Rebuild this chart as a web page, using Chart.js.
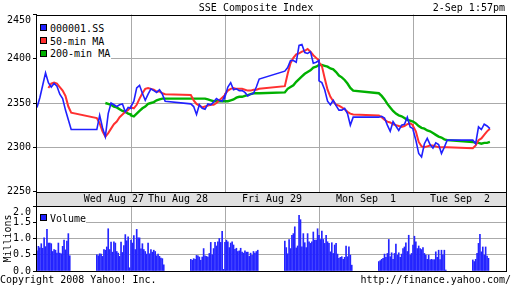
<!DOCTYPE html>
<html><head><meta charset="utf-8">
<script src="https://cdn.jsdelivr.net/npm/chart.js@4.4.0/dist/chart.umd.min.js"></script>
<style>
html,body{margin:0;padding:0;background:#fff;}
body{width:512px;height:288px;position:relative;overflow:hidden;font-family:"DejaVu Sans Mono",monospace;font-size:10px;color:#000;}
.t{position:absolute;white-space:pre;line-height:12px;}
canvas{position:absolute;left:0;}
.bg{position:absolute;background:#fff;}
.box{position:absolute;width:5px;height:5px;border:1px solid #000;}
</style></head><body>
<canvas id="pc" width="512" height="200" style="top:0"></canvas>
<canvas id="vc" width="512" height="98" style="top:190px"></canvas>
<div class="t" style="left:0;width:512px;text-align:center;top:1.5px">SSE Composite Index</div>
<div class="t" style="right:7px;top:1.5px">2-Sep 1:57pm</div>
<div class="bg" style="left:37px;top:16px;width:74px;height:44px"></div>
<div class="box" style="left:40px;top:24px;background:#2020ff"></div>
<div class="box" style="left:40px;top:37px;background:#ff3030"></div>
<div class="box" style="left:40px;top:50px;background:#00b000"></div>
<div class="t" style="left:50px;top:23px">000001.SS</div>
<div class="t" style="left:50px;top:35.7px">50-min MA</div>
<div class="t" style="left:50px;top:48.4px">200-min MA</div>
<div class="bg" style="left:37px;top:207px;width:49px;height:18px"></div>
<div class="box" style="left:40px;top:214px;background:#2020ff"></div>
<div class="t" style="left:50px;top:213px">Volume</div>
<div class="t" style="left:0;top:273.5px">Copyright 2008 Yahoo! Inc.</div>
<div class="t" style="right:1px;top:273.5px">http://finance.yahoo.com/</div>
<script>
// ---- data ----
// x unit: 5-minute slot; a trading day 9:30-15:00 = 66 slots (lunch 11:30-13:00 kept as gap)
const dayLabels = ['Wed Aug 27','Thu Aug 28','Fri Aug 29','Mon Sep  1','Tue Sep  2'];
const dayLabelSlots = [54, 99, 165, 231, 297];
const dayBoundaries = [0, 66, 132, 198, 264, 330];
const priceTicks = [2250, 2300, 2350, 2400, 2450];
const volumeTicks = [0, 0.5, 1, 1.5, 2];
// sessions in order: Wed AM, Wed PM, Thu AM, Thu PM, Fri AM, Fri PM, Mon AM, Mon PM, Tue AM, Tue PM
// price sampled every 10 minutes
const index000001 = [
 [2345,2356,2370,2384,2373,2368,2372,2369,2360,2355,2342,2331,2320],
 [2320,2336,2322,2312,2338,2350,2348,2346,2348,2349,2340,2345,2344],
 [2346,2352,2367,2370,2361,2353,2360,2366,2364,2362,2365,2360,2352],
 [2349,2346,2337,2348,2344,2343,2349,2348,2351,2355,2353,2352,2359],
 [2357,2368,2373,2365,2366,2364,2364,2362,2358,2360,2361,2368,2377],
 [2386,2390,2398,2398,2396,2415,2416,2407,2406,2408,2395,2396,2398],
 [2375,2373,2365,2352,2348,2353,2347,2342,2342,2344,2338,2325,2334],
 [2334,2335,2333,2325,2318,2329,2324,2319,2325,2326,2334,2323,2321],
 [2320,2308,2293,2289,2304,2310,2303,2299,2305,2303,2293,2300,2308],
 [2308,2304,2323,2320,2326,2324,2321]
];
const ma50 = [
 [null,null,null,null,2367,2372,2373,2372,2368,2364,2358,2346,2339],
 [2333,2327,2318,2312,2316,2321,2326,2329,2334,2337,2340,2342,2346],
 [2345,2344,2348,2355,2361,2366,2367,2366,2365,2363,2363,2361,2360],
 [2359,2353,2349,2347,2345,2346,2347,2348,2348,2350,2353,2356,2359],
 [2360,2364,2366,2367,2366,2366,2366,2365,2364,2364,2365,2365,2366],
 [2369,2383,2395,2401,2405,2406,2408,2409,2411,2408,2404,2401,2398],
 [2396,2392,2378,2365,2357,2352,2348,2347,2345,2343,2340,2338,2337],
 [2336,2334,2331,2329,2328,2326,2325,2324,2323,2324,2326,2327,2325],
 [2324,2318,2306,2301,2300,2301,2302,2302,2301,2300,2300,2300,2300],
 [2299,2302,2308,2310,2314,2318,2321]
];
const ma200 = [
 [null,null,null,null,null,null,null,null,null,null,null,null,null],
 [null,null,null,2350,2349,2348,2346,2345,2343,2341,2340,2338,2337],
 [2336,2335,2338,2341,2344,2346,2349,2350,2351,2353,2354,2355,2355],
 [2355,2355,2355,2355,2355,2355,2354,2353,2352,2352,2352,2352,2352],
 [2352,2352,2353,2354,2356,2357,2357,2358,2359,2360,2361,2361,2361],
 [2362,2366,2368,2370,2374,2377,2380,2383,2385,2387,2390,2391,2393],
 [2393,2393,2392,2391,2389,2388,2385,2381,2379,2376,2372,2367,2364],
 [2361,2358,2354,2349,2345,2341,2338,2336,2335,2333,2331,2330,2329],
 [2329,2327,2324,2322,2321,2319,2318,2316,2314,2312,2311,2309,2308],
 [2306,2305,2305,2304,2305,2305,2306]
];
// volume (millions) every 5 minutes
const volume = [
 [0.62,0.76,0.71,0.84,0.70,1.02,0.75,1.28,0.86,0.86,0.84,0.60,0.66,0.64,0.55,0.86,0.55,0.53,0.76,0.95,0.65,0.92,1.15,0.47],
 [0.50,0.47,0.53,0.52,0.45,0.66,0.64,0.74,1.30,0.66,0.89,0.58,0.90,0.86,0.60,0.55,0.45,0.89,0.57,0.78,1.12,0.93,1.05,0.10],
 [0.95,0.86,1.09,0.66,1.28,1.02,1.02,0.68,0.84,0.66,0.60,0.52,0.86,0.53,0.66,0.58,0.64,0.60,0.47,0.52,0.45,0.40,0.38,0.19],
 [0.36,0.33,0.38,0.36,0.48,0.47,0.43,0.33,0.43,0.69,0.47,0.45,0.43,0.54,0.88,0.50,0.69,0.88,0.77,0.90,1.00,0.88,1.22,0.05],
 [0.88,0.95,0.90,0.72,0.86,0.90,0.80,0.67,0.70,0.60,0.62,0.70,0.58,0.55,0.62,0.58,0.58,0.45,0.55,0.48,0.60,0.55,0.60,0.64],
 [0.92,0.72,0.53,0.97,0.69,1.10,1.15,1.36,0.71,0.77,1.71,1.58,0.74,1.15,0.87,0.72,1.15,0.90,0.85,0.90,1.20,0.95,0.95,1.30],
 [1.10,0.97,1.23,0.97,0.85,1.10,0.90,0.85,0.59,0.87,0.54,0.80,0.85,0.52,0.39,0.42,0.44,0.36,0.42,0.77,0.44,0.74,0.49,0.18],
 [0.29,0.32,0.36,0.39,0.52,0.42,0.54,0.97,0.44,0.56,0.36,0.54,0.83,0.49,0.56,0.42,0.52,0.69,0.74,0.87,0.60,1.10,0.49,0.54],
 [0.80,1.07,0.90,0.69,0.77,0.69,0.66,0.72,0.54,0.49,0.36,0.49,0.34,0.36,0.34,0.35,0.59,0.42,0.64,0.35,0.64,0.50,0.64,0.03],
 [0.34,0.29,0.36,0.54,0.85,1.13,0.59,0.74,0.49,0.74,0.46,0.39]
];

// ---- build ----
const SLOTS_PER_DAY = 66, PM_START = 42;
function sessionStart(k){ return Math.floor(k/2)*SLOTS_PER_DAY + (k%2 ? PM_START : 0); }
function toPoints(sess, step){
  const pts = [];
  sess.forEach((arr,k)=>{ const s0 = sessionStart(k); arr.forEach((v,i)=>{ if(v!==null) pts.push({x:s0+i*step, y:v}); }); });
  return pts;
}
const FONT = {family:'"DejaVu Sans Mono", monospace', size:10};
const GRID = '#aaaaaa';
const frame = {
  id:'frame',
  beforeDraw(c){
    const top = c.scales.xTop;
    if(top){
      const a = c.chartArea, ctx = c.ctx;
      ctx.save(); ctx.fillStyle = '#e0e0e0';
      const y0 = Math.round(top.top);
      ctx.fillRect(a.left, y0+1, a.right-a.left, Math.round(a.top)-y0-1);
      ctx.restore();
    }
  },
  afterDraw(c){
    const a = c.chartArea, ctx = c.ctx;
    ctx.save(); ctx.strokeStyle = '#000'; ctx.lineWidth = 1; ctx.beginPath();
    const L = Math.round(a.left)-0.5, R = Math.round(a.right)-0.5;
    let T = Math.round(a.top)+0.5; const B = Math.round(a.bottom)+0.5;
    ctx.moveTo(L-0.5,T); ctx.lineTo(R+0.5,T);
    ctx.moveTo(L-0.5,B); ctx.lineTo(R+0.5,B);
    if(c.scales.xTop){
      const bt = Math.round(c.scales.xTop.top)+0.5;
      ctx.moveTo(L-0.5,bt); ctx.lineTo(R+0.5,bt);
      T = bt;
    }
    ctx.moveTo(L,T); ctx.lineTo(L,B);
    ctx.moveTo(R,T); ctx.lineTo(R,B);
    ctx.stroke(); ctx.restore();
  }
};
const edgeColor = (lo,hi) => ctx => (ctx.tick && (ctx.tick.value===lo || ctx.tick.value===hi)) ? 'rgba(0,0,0,0)' : GRID;
const xGrid = () => ({
  type:'linear', min:0, max:330, offset:false,
  afterBuildTicks: s => { s.ticks = dayBoundaries.map(v=>({value:v})); },
  afterFit: s => { s.height = 0; },
  ticks:{display:false, autoSkip:false},
  grid:{color:edgeColor(0,330), drawTicks:false, offset:false},
  border:{display:false}
});
// the top tick label sits just inside the plot, as in the original
const insideTop = (max, fmt) => v => v === max ? ['', fmt(v)] : fmt(v);

new Chart(document.getElementById('pc'), {
  type:'line',
  data:{datasets:[
    {label:'000001.SS', data:toPoints(index000001,2), borderColor:'#2020ff', borderWidth:1.6, order:0},
    {label:'50-min MA', data:toPoints(ma50,2), borderColor:'#ff3030', borderWidth:2, order:1},
    {label:'200-min MA', data:toPoints(ma200,2), borderColor:'#00b000', borderWidth:2.4, order:2}
  ]},
  options:{
    responsive:false, animation:false, devicePixelRatio:1,
    layout:{padding:{top:14.5, right:5, bottom:8.5, left:0}},
    elements:{point:{radius:0}, line:{tension:0}},
    plugins:{legend:{display:false}, tooltip:{enabled:false}},
    scales:{
      x: xGrid(),
      y:{
        min:2250, max:2450,
        afterBuildTicks: s => { s.ticks = priceTicks.map(v=>({value:v})); },
        afterFit: s => { s.width = 37; },
        ticks:{font:FONT, color:'#000', padding:2, autoSkip:false, callback:insideTop(2450, v=>String(v))},
        grid:{color:edgeColor(2250,2450), tickColor:'#000', tickLength:4},
        border:{display:false}
      }
    }
  },
  plugins:[frame]
});

new Chart(document.getElementById('vc'), {
  type:'bar',
  data:{datasets:[
    {label:'Volume', data:toPoints(volume,1), backgroundColor:'#2424ff', barThickness:1, xAxisID:'x', yAxisID:'y'}
  ]},
  options:{
    responsive:false, animation:false, devicePixelRatio:1,
    layout:{padding:{top:2, right:5, bottom:17, left:0}},
    plugins:{legend:{display:false}, tooltip:{enabled:false}},
    scales:{
      x: xGrid(),
      xTop:{
        type:'linear', position:'top', min:0, max:330, offset:false,
        afterBuildTicks: s => { s.ticks = dayLabelSlots.map(v=>({value:v})); },
        afterFit: s => { s.height = 14; },
        ticks:{font:FONT, color:'#000', padding:1, maxRotation:0, autoSkip:false,
               callback:(v,i)=>dayLabels[i]},
        grid:{display:false, drawTicks:false, offset:false},
        border:{display:false}
      },
      y:{
        min:0, max:2,
        afterBuildTicks: s => { s.ticks = volumeTicks.map(v=>({value:v})); },
        afterFit: s => { s.width = 37; },
        ticks:{font:FONT, color:'#000', padding:2, autoSkip:false, callback:insideTop(2, v=>v.toFixed(1))},
        grid:{color:edgeColor(0,2), tickColor:'#000', tickLength:4},
        border:{display:false},
        title:{display:true, text:'Millions', font:FONT, color:'#000', padding:{top:2.5,bottom:0}}
      }
    }
  },
  plugins:[frame]
});
</script>
</body></html>
